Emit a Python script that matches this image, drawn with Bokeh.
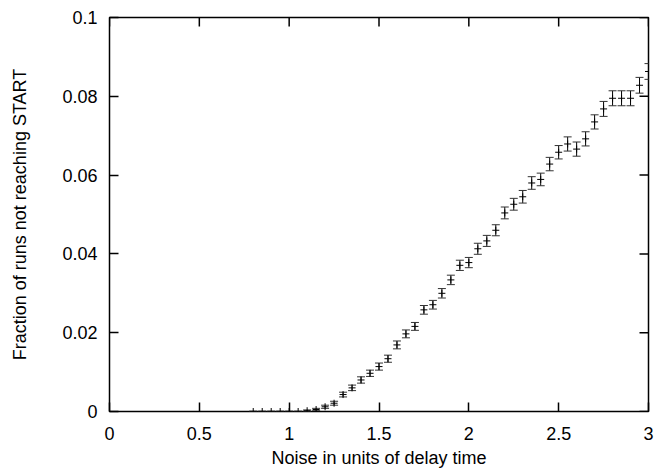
from bokeh.plotting import figure
from bokeh.models import ColumnDataSource, Whisker, TeeHead, Range1d, FixedTicker
from bokeh.embed import file_html
from bokeh.resources import INLINE
import math

noise = [0.8, 0.85, 0.9, 0.95, 1.0, 1.05, 1.1, 1.15, 1.2, 1.25, 1.3, 1.35, 1.4, 1.45,
         1.5, 1.55, 1.6, 1.65, 1.7, 1.75, 1.8, 1.85, 1.9, 1.95, 2.0, 2.05, 2.1, 2.15,
         2.2, 2.25, 2.3, 2.35, 2.4, 2.45, 2.5, 2.55, 2.6, 2.65, 2.7, 2.75, 2.8, 2.85,
         2.9, 2.95, 3.0]
fraction = [0.0, 0.0, 0.0, 0.0, 0.0, 0.0, 0.0002, 0.0005, 0.0012, 0.0021, 0.0043, 0.0060,
            0.0080, 0.0097, 0.0114, 0.0134, 0.0169, 0.0197, 0.0216, 0.0258, 0.0271, 0.0300,
            0.0334, 0.0371, 0.0378, 0.0413, 0.0433, 0.0460, 0.0504, 0.0526, 0.0545, 0.0580,
            0.0589, 0.0628, 0.0658, 0.0679, 0.0666, 0.0692, 0.0735, 0.0768, 0.0795, 0.0795,
            0.0795, 0.0828, 0.0863]
error = [0.0001, 0.0001, 0.0001, 0.0001, 0.0001, 0.0001, 0.0002, 0.0003, 0.0004, 0.0005,
         0.0006, 0.0007, 0.0008, 0.0008, 0.0009, 0.0009, 0.0010, 0.0010, 0.0010, 0.0011,
         0.0011, 0.0012, 0.0012, 0.0013, 0.0013, 0.0014, 0.0014, 0.0014, 0.0015, 0.0015,
         0.0016, 0.0016, 0.0016, 0.0017, 0.0017, 0.0018, 0.0018, 0.0018, 0.0018, 0.0019,
         0.0019, 0.0019, 0.0019, 0.0020, 0.0020]

x_ticks = [0, 0.5, 1, 1.5, 2, 2.5, 3]
x_tick_labels = ["0", "0.5", "1", "1.5", "2", "2.5", "3"]
y_ticks = [0, 0.02, 0.04, 0.06, 0.08, 0.1]
y_tick_labels = ["0", "0.02", "0.04", "0.06", "0.08", "0.1"]

x_label = "Noise in units of delay time"
y_label = "Fraction of runs not reaching START"

FONT = "Liberation Sans"
FS = "18px"

src = ColumnDataSource(dict(
    x=noise,
    y=fraction,
    upper=[f + e for f, e in zip(fraction, error)],
    lower=[f - e for f, e in zip(fraction, error)],
))

x_min, x_max = x_ticks[0], x_ticks[-1]
y_min, y_max = y_ticks[0], y_ticks[-1]

p = figure(width=664, height=468, output_backend="svg", toolbar_location=None,
           x_range=Range1d(x_min, x_max), y_range=Range1d(y_min, y_max),
           min_border_left=109, min_border_right=16, min_border_top=17, min_border_bottom=57,
           frame_width=539, frame_height=394)
p.background_fill_color = "white"
p.border_fill_color = "white"
p.grid.visible = False
p.outline_line_color = "black"
p.outline_line_width = 1.5

def style_axis(ax, ticks, labels):
    ax.ticker = FixedTicker(ticks=ticks)
    ax.major_label_overrides = {t: l for t, l in zip(ticks, labels)}
    ax.minor_tick_line_color = None
    ax.major_tick_in = 9
    ax.major_tick_out = 0
    ax.major_tick_line_color = "black"
    ax.major_tick_line_width = 1.5
    ax.axis_line_color = None
    ax.major_label_text_font = FONT
    ax.major_label_text_color = "black"
    ax.major_label_text_font_size = FS
    ax.axis_label_text_font = FONT
    ax.axis_label_text_font_size = FS
    ax.axis_label_text_font_style = "normal"
    ax.axis_label_text_color = "black"

xa = p.xaxis[0]
ya = p.yaxis[0]
style_axis(xa, x_ticks, x_tick_labels)
style_axis(ya, y_ticks, y_tick_labels)
xa.major_label_standoff = 15
ya.major_label_standoff = 12
xa.axis_label = x_label
ya.axis_label = y_label
xa.axis_label_standoff = 5
ya.axis_label_standoff = 29

# mirrored inward ticks on the top and right borders (half of each dash is clipped by the frame)
p.scatter(x_ticks, [y_max] * len(x_ticks), marker="dash", size=18, angle=math.pi / 2,
          line_color="black", line_width=1.5)
p.scatter([x_max] * len(y_ticks), y_ticks, marker="dash", size=18,
          line_color="black", line_width=1.5)

w = Whisker(base="x", upper="upper", lower="lower", source=src, dimension="height",
            line_color="black", line_width=1,
            upper_head=TeeHead(size=8, line_color="#333333", line_width=1),
            lower_head=TeeHead(size=8, line_color="#333333", line_width=1))
p.add_layout(w)
p.scatter("x", "y", source=src, marker="cross", size=7, line_color="black", line_width=1)

open("out.html", "w").write(file_html(p, INLINE))
